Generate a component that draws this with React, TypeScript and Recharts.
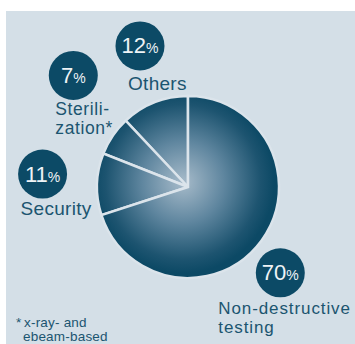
import React from 'react';
import { PieChart, Pie, Cell } from 'recharts';

const categories = ['Others', 'Sterilization', 'Security', 'Non-destructive testing'];
const shares = [12, 7, 11, 70];
const labelLines = [['Others'], ['Sterili-', 'zation*'], ['Security'], ['Non-destructive', 'testing']];
const footnoteLines = ['x-ray- and', 'ebeam-based'];

// where each percentage bubble sits, relative to the pie centre (deg / px)
const bubbleLayout = [
  { angle: 108.8, dist: 149, textDx: -12, textDy: 44, lineGap: 17, size: 19, spacing: 0.3 },
  { angle: 135.8, dist: 160, textDx: -18, textDy: 39.5, lineGap: 19.5, size: 17.5, spacing: 0.6 },
  { angle: 174.9, dist: 146, textDx: -22, textDy: 41, lineGap: 19, size: 19, spacing: 0.3 },
  { angle: -42.9, dist: 126, textDx: -62, textDy: 41, lineGap: 19, size: 17, spacing: 0.9 },
];

const PANEL = '#d4dfe7';
const DARK = '#0c4a66';
const TEXT = '#1b5570';
const FONT = '"Liberation Sans", Arial, sans-serif';
const CX = 183;
const CY = 182;
const R = 91;

const data = categories.map((name, i) => ({ name, value: shares[i] }));

const RAD = Math.PI / 180;

const renderLabel = (props: any) => {
  const { cx, cy, index, value } = props;
  const lay = bubbleLayout[index];
  const bx = cx + lay.dist * Math.cos(lay.angle * RAD);
  const by = cy - lay.dist * Math.sin(lay.angle * RAD);
  const tx = bx + lay.textDx;
  return (
    <g key={`lbl-${index}`}>
      <circle cx={bx} cy={by} r={24.5} fill={DARK} />
      <text x={bx} y={by + 7.5} textAnchor="middle" fill="#eef3f6" fontFamily={FONT}>
        <tspan fontSize={22}>{value}</tspan>
        <tspan fontSize={14}>%</tspan>
      </text>
      <text x={tx} y={by + lay.textDy} fill={TEXT} fontSize={lay.size} fontFamily={FONT} letterSpacing={lay.spacing}>
        {labelLines[index].map((line, j) => (
          <tspan key={j} x={tx} dy={j === 0 ? 0 : lay.lineGap}>
            {line}
          </tspan>
        ))}
      </text>
    </g>
  );
};

const App: React.FC = () => {
  return (
    <div style={{ position: 'absolute', left: 0, top: 0, width: 355, height: 344, background: '#fff', overflow: 'hidden' }}>
      <div style={{ position: 'absolute', left: 6, top: 11, right: 0, bottom: 0, background: PANEL }} />
      <div style={{ position: 'absolute', left: 0, top: 0 }}>
        <PieChart width={355} height={344}>
          <defs>
            <radialGradient id="pieGlow" gradientUnits="userSpaceOnUse" cx={CX} cy={CY} r={R}>
              <stop offset="0%" stopColor="#a7bbca" />
              <stop offset="45%" stopColor="#5f869f" />
              <stop offset="85%" stopColor="#1d5470" />
              <stop offset="100%" stopColor="#0c4965" />
            </radialGradient>
          </defs>
          <Pie
            data={data}
            dataKey="value"
            nameKey="name"
            cx={CX}
            cy={CY}
            outerRadius={R}
            startAngle={90}
            endAngle={450}
            stroke="#dbe4eb"
            strokeWidth={2.5}
            label={renderLabel}
            labelLine={false}
            isAnimationActive={false}
          >
            {data.map((entry, i) => (
              <Cell key={`cell-${i}`} fill="url(#pieGlow)" />
            ))}
          </Pie>
          <text x={16} y={327} fill={TEXT} fontSize={13.5} fontFamily={FONT}>*</text>
          <text y={327} fill={TEXT} fontSize={13.5} fontFamily={FONT} letterSpacing={0.2}>
            {footnoteLines.map((line, i) => (
              <tspan key={i} x={i === 0 ? 24 : 23} dy={i === 0 ? 0 : 14}>
                {line}
              </tspan>
            ))}
          </text>
        </PieChart>
      </div>
    </div>
  );
};

export default App;
